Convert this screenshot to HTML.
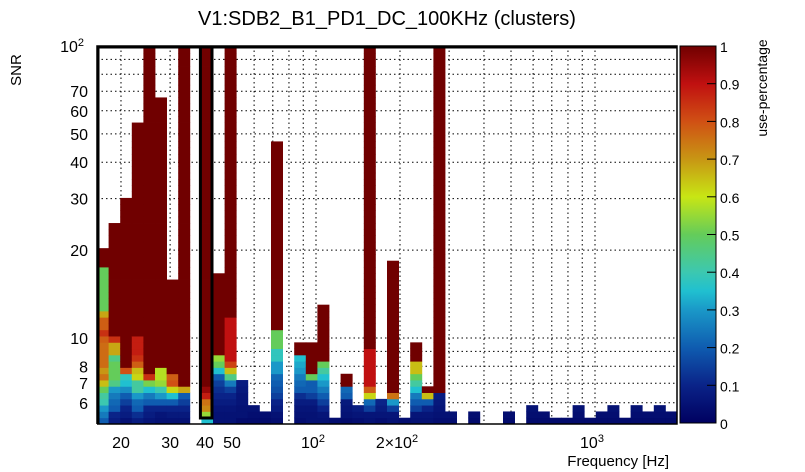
<!DOCTYPE html>
<html><head><meta charset="utf-8"><style>
body{margin:0;background:#fff;}
svg{display:block;font-family:"Liberation Sans",sans-serif;}
</style></head><body>
<svg id="chart" width="805" height="472" viewBox="0 0 805 472">
<defs><linearGradient id="pal" x1="0" y1="1" x2="0" y2="0">
<stop offset="0" stop-color="#000060"/><stop offset="0.1" stop-color="#0a2388"/><stop offset="0.2" stop-color="#0f5cb0"/><stop offset="0.3" stop-color="#1a98c8"/><stop offset="0.35" stop-color="#20c0d0"/><stop offset="0.4" stop-color="#3cc8b0"/><stop offset="0.5" stop-color="#64cc5a"/><stop offset="0.6" stop-color="#c8e614"/><stop offset="0.7" stop-color="#c89614"/><stop offset="0.8" stop-color="#d05014"/><stop offset="0.9" stop-color="#c01010"/><stop offset="1" stop-color="#700000"/>
</linearGradient></defs>
<text x="387" y="25" text-anchor="middle" font-size="20">V1:SDB2_B1_PD1_DC_100KHz (clusters)</text>
<g id="grid"></g>
<g id="cells"></g>
<g id="axes"></g>
<text transform="translate(21,70) rotate(-90)" text-anchor="middle" font-size="15">SNR</text>
<text x="669" y="466" text-anchor="end" font-size="15">Frequency [Hz]</text>
<rect x="680" y="46" width="36" height="377" fill="url(#pal)"/>
<text transform="translate(767,88) rotate(-90)" text-anchor="middle" font-size="14">use-percentage</text>
<g id="cbar"></g>
</svg>
<script>
const topSNR=[20,24.5,30,55,100,67,16,100,0,100,16.7,100,7.2,5.9,5.6,47,0,9.7,9.7,13,5.3,7.5,5.9,100,6.2,18,5.3,9.7,6.8,100,5.6,0,5.6,0,0,5.6,0,5.9,5.6,5.3,5.3,5.9,5.3,5.6,5.9,5.3,5.9,5.6,5.9,5.6];
const profiles=[
[0.2,0.25,0.3,0.4,0.42,0.5,0.65,0.75,0.7,0.76,0.76,0.76,0.76,0.78,0.85,0.78,0.78,0.68,0.5,0.5,0.5,0.5,0.5,0.5,0.5],
[0.08,0.1,0.2,0.22,0.25,0.3,0.45,0.5,0.5,0.5,0.45,0.68,0.68,0.85],
[0.05,0.08,0.1,0.15,0.2,0.28,0.35,0.38,0.8],
[0.08,0.12,0.2,0.22,0.3,0.42,0.42,0.62,0.65,0.78,0.85,0.88,0.88,0.88],
[0.06,0.08,0.1,0.2,0.25,0.35,0.52,0.85],
[0.05,0.06,0.1,0.2,0.3,0.4,0.55,0.58,0.58],
[0.05,0.07,0.1,0.2,0.35,0.62,0.8,0.78],
[0.05,0.07,0.1,0.15,0.2,0.68],
[],
[0.35,0.55,0.72,0.75,0.88,0.95],
[0.05,0.05,0.06,0.08,0.1,0.12,0.15,0.2,0.35,0.5,0.55],
[0.05,0.05,0.06,0.08,0.1,0.15,0.25,0.45,0.65,0.82,0.9,0.9,0.9,0.9,0.9,0.9,0.9],
[0.03,0.05,0.05,0.06,0.06,0.07,0.08],
[0.03,0.04,0.05],
[0.03,0.04],
[0.04,0.05,0.08,0.1,0.15,0.18,0.2,0.22,0.3,0.3,0.38,0.38,0.5,0.5,0.5],
[],
[0.04,0.05,0.06,0.08,0.12,0.2,0.22,0.25,0.3,0.32,0.35],
[0.05,0.05,0.06,0.08,0.15,0.2,0.2,0.5],
[0.05,0.06,0.1,0.15,0.2,0.25,0.3,0.35,0.42,0.5],
[0.04],
[0.03,0.05,0.06,0.07,0.2,0.22],
[0.04,0.06,0.08],
[0.05,0.06,0.15,0.22,0.62,0.78,0.9,0.9,0.9,0.9,0.9,0.9],
[0.04,0.06,0.08,0.1],
[0.05,0.06,0.15,0.3,0.75],
[0.04],
[0.05,0.06,0.15,0.2,0.25,0.35,0.42,0.5,0.65,0.65],
[0.05,0.06,0.1,0.2,0.65],
[0.04,0.05,0.06,0.07,0.08],
[0.04,0.05],[],[0.03,0.04],[],[],[0.03,0.04],[],[0.03,0.04,0.05],[0.03,0.04],[0.03],[0.03],[0.03,0.04,0.05],[0.03],[0.03,0.04],[0.03,0.04,0.05],[0.03],[0.03,0.04,0.05],[0.03,0.04],[0.03,0.04,0.05],[0.03,0.04]
];
const yTickVals=[6,7,8,10,20,30,40,50,60,70];
const yTickLabels=["6","7","8","10","20","30","40","50","60","70"];
const xTickVals=[20,30,40,50,1000];
const xTickLabels=["20","30","40","50",""];
const cbTicks=[0,0.1,0.2,0.3,0.4,0.5,0.6,0.7,0.8,0.9,1];

const NS="http://www.w3.org/2000/svg";
const L=97,R=677,T=46,B=424;
function x(f){return 316+279*(Math.log10(f)-2);}
function y(s){return 338-292*(Math.log10(s)-1);}
const stops=[[0,[0,0,96]],[0.1,[10,35,136]],[0.2,[15,92,176]],[0.3,[26,152,200]],[0.35,[32,192,208]],[0.4,[60,200,176]],[0.5,[100,204,90]],[0.6,[200,230,20]],[0.7,[200,150,20]],[0.8,[208,80,20]],[0.9,[192,16,16]],[1,[112,0,0]]];
function col(v){for(let i=1;i<stops.length;i++){if(v<=stops[i][0]){const a=stops[i-1],b=stops[i];const t=(v-a[0])/(b[0]-a[0]);return 'rgb('+a[1].map((c,k)=>Math.round(c+(b[1][k]-c)*t)).join(',')+')';}}return 'rgb(112,0,0)';}
function mk(tag,at,parent){const e=document.createElementNS(NS,tag);for(const k in at)e.setAttribute(k,at[k]);parent.appendChild(e);return e;}
const grid=document.getElementById('grid'),cells=document.getElementById('cells'),axes=document.getElementById('axes'),cbar=document.getElementById('cbar');
const gx=[20,30,40,50,60,70,80,90,100,200,300,400,500,600,700,800,900,1000];
gx.forEach(f=>{const l=mk('line',{x1:x(f),x2:x(f),y1:T,y2:B,stroke:'#000','stroke-width':1,'stroke-dasharray':'1.5,3'},grid);

});
[6,7,8,9,10,20,30,40,50,60,70,80,90].forEach(s=>{const l=mk('line',{x1:L,x2:R,y1:y(s),y2:y(s),stroke:'#000','stroke-width':1,'stroke-dasharray':'1.5,3'},grid);

});
const nCols=topSNR.length, cw=(R-L)/nCols, binH=6.28;
for(let i=0;i<nCols;i++){
  if(!topSNR[i])continue;
  const nb=Math.max(1,Math.round((B-y(topSNR[i]))/binH));
  for(let j=0;j<nb;j++){
    const v=j<profiles[i].length?profiles[i][j]:1;
    const r=mk('rect',{x:L+i*cw,y:B-(j+1)*binH,width:cw+0.4,height:binH+0.4,fill:col(v)},cells);
    
    
  }
}
const fr=mk('path',{d:`M${L} ${B}V${T}H${R}V${B}H${L}`,fill:'none',stroke:'#000','stroke-width':1.5},axes);


const fx1=L+9*cw-1, fx2=L+10*cw-1;
const thick=mk('path',{d:`M${L+1} ${B}V${T+1}H${R}M${fx1} ${T}V${B-6}H${fx2}V${T}`,fill:'none',stroke:'#000','stroke-width':3},axes);


yTickVals.forEach((s,k)=>{const t=mk('text',{x:88,y:y(s)+6,'text-anchor':'end','font-size':16},axes);t.textContent=yTickLabels[k];

});
const y100=mk('text',{x:84,y:y(100)+6,'text-anchor':'end','font-size':16},axes);y100.innerHTML='10<tspan dy="-6" font-size="11">2</tspan>';


xTickVals.forEach((f,k)=>{if(!xTickLabels[k])return;const t=mk('text',{x:x(f),y:448,'text-anchor':'middle','font-size':16},axes);t.textContent=xTickLabels[k];

});
[[100,'10','2'],[200,'2×10','2'],[1000,'10','3']].forEach(a=>{const t=mk('text',{x:x(a[0])-3,y:448,'text-anchor':'middle','font-size':16},axes);t.innerHTML=a[1]+'<tspan dy="-6" font-size="11">'+a[2]+'</tspan>';

});
cbTicks.forEach(v=>{const yy=423-377*v;mk('line',{x1:707,x2:716,y1:yy,y2:yy,stroke:'#000'},cbar);
const t=mk('text',{x:720,y:yy+6,'font-size':14},cbar);t.textContent=String(v);

});
const cf=mk('rect',{x:680,y:46,width:36,height:377,fill:'none',stroke:'#000'},cbar);


</script>
</body></html>
